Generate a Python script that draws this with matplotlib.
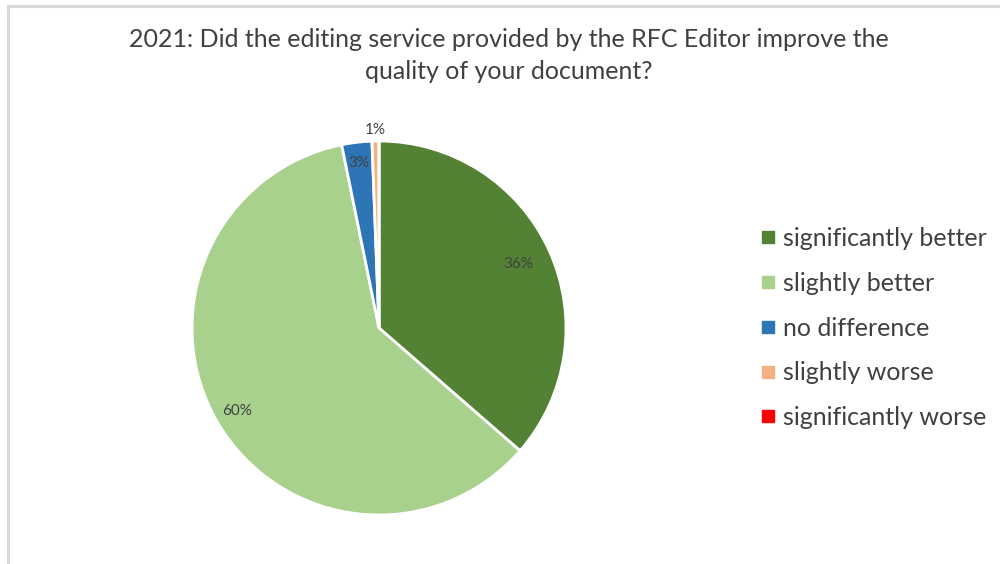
import numpy as np
import matplotlib.pyplot as plt
from matplotlib.lines import Line2D

# --- data ---
categories = ["significantly better", "slightly better", "no difference",
              "slightly worse", "significantly worse"]
shares = [36.4, 60.4, 2.6, 0.6, 0.0]
pct_labels = ["36%", "60%", "3%", "1%", None]
label_dist = [0.82, 0.88, 0.89, 1.06, None]
colors = ["#548235", "#A9D18E", "#2E75B6", "#F4B183", "#FF0000"]

title = ("2021: Did the editing service provided by the RFC Editor improve the\n"
         "quality of your document?")

plt.rcParams['font.family'] = ['Lato', 'DejaVu Sans']
txt = "#404040"

fig = plt.figure(figsize=(10, 5.64), dpi=100)

# light grey chart border (top and left visible)
fig.add_artist(Line2D([0.0075, 1.0], [0.9885, 0.9885], color="#d9d9d9", lw=2.2,
                      transform=fig.transFigure))
fig.add_artist(Line2D([0.0075, 0.0075], [0.0, 0.9885], color="#d9d9d9", lw=2.2,
                      transform=fig.transFigure))

# --- pie ---
ax = fig.add_axes([0.192, 0.0869, 0.374, 0.6631])
wedges, _ = ax.pie(shares, colors=colors, startangle=90, counterclock=False,
                   radius=1.0, wedgeprops=dict(edgecolor="white", linewidth=2))
ax.set_xlim(-1.0, 1.0)
ax.set_ylim(-1.0, 1.0)
ax.set_aspect("equal")
ax.axis("off")

for w, lab, d in zip(wedges, pct_labels, label_dist):
    if lab is None:
        continue
    ang = np.deg2rad((w.theta1 + w.theta2) / 2)
    ax.text(d * np.cos(ang), d * np.sin(ang), lab, ha="center", va="center",
            fontsize=11, color=txt)

# --- title ---
fig.text(0.509, 0.902, title, ha="center", va="center", fontsize=18,
         color=txt, linespacing=1.5)

# --- legend ---
handles = [Line2D([], [], marker="s", linestyle="none", markersize=9,
                  markerfacecolor=c, markeredgecolor=c) for c in colors]
fig.legend(handles, categories, loc="center left", bbox_to_anchor=(0.739, 0.418),
           frameon=False, fontsize=18, labelcolor=txt, handlelength=0.5,
           handletextpad=0.35, labelspacing=0.87)

plt.savefig("out.png", dpi=100)
plt.close()
